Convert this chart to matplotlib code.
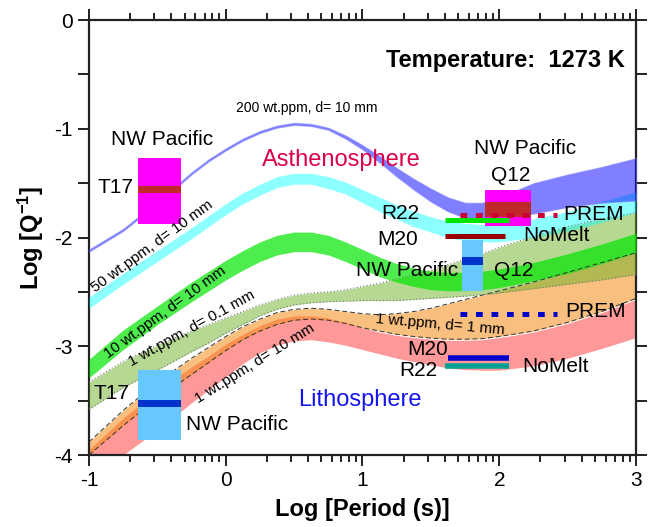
import numpy as np
import matplotlib
matplotlib.use("Agg")
import matplotlib.pyplot as plt
from matplotlib.patches import Rectangle
from matplotlib.ticker import FixedLocator

plt.rcParams["font.family"] = ["Liberation Sans", "DejaVu Sans"]
plt.rcParams["mathtext.fontset"] = "custom"
plt.rcParams["mathtext.rm"] = "Liberation Sans"
plt.rcParams["mathtext.bf"] = "Liberation Sans:bold"
plt.rcParams["mathtext.it"] = "Liberation Sans:italic"

# log10 period (s) at which the model bands are sampled
log_period = [-1.0, -0.75, -0.5, -0.25, -0.125, 0.0, 0.125, 0.25, 0.375, 0.5,
              0.625, 0.75, 0.875, 1.0, 1.125, 1.25, 1.375, 1.5, 1.625, 1.75,
              1.875, 2.0, 2.25, 2.5, 2.75, 3.0]

# log10 Q^-1 bands (upper / lower bound) for each water content & grain size
q200_top = [-2.11, -1.92, -1.67, -1.40, -1.28, -1.18, -1.09, -1.02, -0.97, -0.945,
            -0.955, -0.99, -1.06, -1.15, -1.25, -1.36, -1.46, -1.55, -1.63, -1.68,
            -1.68, -1.63, -1.50, -1.42, -1.35, -1.27]
q200_bot = [-2.13, -1.94, -1.69, -1.42, -1.30, -1.20, -1.11, -1.04, -0.99, -0.965,
            -0.975, -1.01, -1.09, -1.19, -1.31, -1.44, -1.56, -1.67, -1.76, -1.82,
            -1.84, -1.83, -1.78, -1.72, -1.68, -1.66]

q50_top = [-2.55, -2.33, -2.12, -1.91, -1.80, -1.69, -1.59, -1.51, -1.44, -1.41,
           -1.41, -1.44, -1.49, -1.56, -1.63, -1.70, -1.76, -1.81, -1.85, -1.87,
           -1.88, -1.87, -1.83, -1.76, -1.67, -1.58]
q50_bot = [-2.65, -2.43, -2.22, -2.01, -1.90, -1.79, -1.69, -1.61, -1.54, -1.51,
           -1.51, -1.55, -1.60, -1.68, -1.76, -1.83, -1.90, -1.95, -2.00, -2.03,
           -2.04, -2.04, -2.00, -1.94, -1.86, -1.77]

q10_top = [-3.12, -2.85, -2.63, -2.41, -2.31, -2.21, -2.12, -2.04, -1.98, -1.95,
           -1.95, -1.98, -2.04, -2.11, -2.18, -2.24, -2.28, -2.31, -2.32, -2.32,
           -2.31, -2.29, -2.23, -2.15, -2.06, -1.96]
q10_bot = [-3.29, -3.03, -2.80, -2.59, -2.49, -2.39, -2.30, -2.22, -2.16, -2.13,
           -2.13, -2.16, -2.22, -2.29, -2.36, -2.41, -2.45, -2.48, -2.49, -2.49,
           -2.48, -2.46, -2.40, -2.33, -2.24, -2.14]

q1_fine_top = [-3.33, -3.14, -2.99, -2.86, -2.80, -2.74, -2.68, -2.62, -2.57, -2.53,
               -2.51, -2.50, -2.48, -2.45, -2.42, -2.38, -2.34, -2.30, -2.25, -2.20,
               -2.15, -2.09, -1.99, -1.90, -1.83, -1.77]
q1_fine_bot = [-3.58, -3.38, -3.22, -3.05, -2.97, -2.88, -2.80, -2.72, -2.66, -2.62,
               -2.60, -2.59, -2.585, -2.58, -2.58, -2.58, -2.57, -2.56, -2.55, -2.54,
               -2.525, -2.51, -2.47, -2.43, -2.39, -2.34]

q1_mid_top = [-3.88, -3.59, -3.33, -3.11, -3.01, -2.91, -2.82, -2.75, -2.69, -2.66,
              -2.65, -2.66, -2.68, -2.70, -2.71, -2.70, -2.68, -2.65, -2.61, -2.57,
              -2.53, -2.49, -2.41, -2.32, -2.23, -2.14]
q1_mid_bot = [-4.00, -3.73, -3.48, -3.26, -3.15, -3.04, -2.94, -2.86, -2.80, -2.76,
              -2.75, -2.76, -2.79, -2.83, -2.86, -2.89, -2.91, -2.925, -2.935, -2.935,
              -2.93, -2.91, -2.86, -2.78, -2.68, -2.56]

q1_coarse_top = [-3.95, -3.66, -3.41, -3.19, -3.09, -2.98, -2.89, -2.81, -2.75, -2.72,
                 -2.72, -2.74, -2.78, -2.83, -2.87, -2.90, -2.92, -2.935, -2.945, -2.945,
                 -2.94, -2.92, -2.87, -2.79, -2.69, -2.57]
q1_coarse_bot = [-4.32, -4.00, -3.77, -3.52, -3.40, -3.28, -3.16, -3.06, -2.99, -2.95,
                 -2.94, -2.96, -2.99, -3.03, -3.07, -3.11, -3.14, -3.17, -3.20, -3.215,
                 -3.22, -3.22, -3.18, -3.11, -3.02, -2.92]

# seismic observations: boxes (period range, Q^-1 range, preferred band)
t17_period = [-0.642, -0.327]
t17_asth_q = [-1.88, -1.27]
t17_asth_best = [-1.59, -1.53]
t17_lith_q = [-3.86, -3.22]
t17_lith_best = [-3.56, -3.49]

q12_asth_period = [1.896, 2.232]
q12_asth_q = [-1.89, -1.56]
q12_asth_best = [-1.81, -1.67]
q12_lith_period = [1.73, 1.88]
q12_lith_q = [-2.49, -2.02]
q12_lith_best = [-2.25, -2.18]

# seismic observations: single values over a period range
prem_period = [1.71, 2.42]
prem_asth_q = -1.79
prem_lith_q = -2.70
r22_asth_period = [1.60, 2.07]
r22_asth_q = -1.84
m20_asth_period = [1.60, 2.04]
m20_asth_q = -1.99
m20_lith_period = [1.625, 2.07]
m20_lith_q = -3.11
r22_lith_period = [1.60, 2.07]
r22_lith_q = -3.18

x_ticks = [-1, 0, 1, 2, 3]
y_ticks = [-4, -3, -2, -1, 0]

fig = plt.figure(figsize=(6.48, 5.27), dpi=100)
ax = fig.add_axes([0.1373, 0.1366, 0.8442, 0.8254])

# model bands, drawn back to front
ax.fill_between(log_period, q1_coarse_top, q1_coarse_bot, color=(1.0, 0.0, 0.0),
                alpha=0.4, lw=0, zorder=1)
ax.fill_between(log_period, q1_mid_top, q1_mid_bot, color=(0.96, 0.55, 0.08),
                alpha=0.55, lw=0, zorder=2)
ax.fill_between(log_period, q1_fine_top, q1_fine_bot, color=(0.43, 0.70, 0.16),
                alpha=0.5, lw=0, zorder=3)
ax.fill_between(log_period, q10_top, q10_bot, color=(0.0, 0.90, 0.0),
                alpha=0.7, lw=0, zorder=4)
ax.fill_between(log_period, q50_top, q50_bot, color=(0.0, 1.0, 1.0),
                alpha=0.45, lw=0, zorder=5)
ax.fill_between(log_period, q200_top, q200_bot, color=(0.0, 0.0, 1.0),
                alpha=0.5, lw=0.8, edgecolor=(0.5, 0.5, 1.0), zorder=6)

# band outlines
for curve in (q1_mid_top, q1_mid_bot):
    ax.plot(log_period, curve, color="#333333", lw=0.7, ls=(0, (5, 3)), zorder=7)
for curve in (q1_fine_top, q1_fine_bot):
    ax.plot(log_period, curve, color="#777777", lw=0.8, ls=(0, (1, 2)), zorder=7)


def obs_box(period, q, best, fill, stripe):
    ax.add_patch(Rectangle((period[0], q[0]), period[1] - period[0], q[1] - q[0],
                           facecolor=fill, edgecolor="none", zorder=10))
    ax.add_patch(Rectangle((period[0], best[0]), period[1] - period[0],
                           best[1] - best[0], facecolor=stripe, edgecolor="none",
                           zorder=10))


obs_box(t17_period, t17_asth_q, t17_asth_best, "#ff00ff", "#c0282c")
obs_box(t17_period, t17_lith_q, t17_lith_best, "#66c8ff", "#0033cc")
obs_box(q12_asth_period, q12_asth_q, q12_asth_best, "#ff00ff", "#c0282c")
obs_box(q12_lith_period, q12_lith_q, q12_lith_best, "#66c8ff", "#0033cc")

ax.plot(r22_asth_period, [r22_asth_q] * 2, color="#00e600", lw=3.6,
        solid_capstyle="butt", zorder=11)
ax.plot(m20_asth_period, [m20_asth_q] * 2, color="#990000", lw=3.6,
        solid_capstyle="butt", zorder=11)
ax.plot(prem_period, [prem_asth_q] * 2, color="#cc0033", lw=3.6,
        ls=(0, (1.35, 1.75)), dash_capstyle="butt", zorder=11)
ax.plot(prem_period, [prem_lith_q] * 2, color="#0000cc", lw=3.6,
        ls=(0, (1.35, 1.75)), dash_capstyle="butt", zorder=11)
ax.plot(m20_lith_period, [m20_lith_q] * 2, color="#0000cc", lw=4.0,
        solid_capstyle="butt", zorder=11)
ax.plot(r22_lith_period, [r22_lith_q] * 2, color="#00a096", lw=4.0,
        solid_capstyle="butt", zorder=11)

# labels on the model curves
small = dict(fontsize=11, ha="center", va="center", zorder=12)
ax.text(0.594, -0.81, "200 wt.ppm, d= 10 mm", fontsize=10, ha="center",
        va="center", zorder=12)
ax.text(-0.535, -2.085, "50 wt.ppm, d= 10 mm", rotation=36, **small)
ax.text(-0.44, -2.69, "10 wt.ppm, d= 10 mm", rotation=36, **small)
ax.text(-0.25, -2.84, "1 wt.ppm, d= 0.1 mm", rotation=29, **small)
ax.text(0.215, -3.16, "1 wt.ppm, d= 10 mm", rotation=32, **small)
ax.text(1.567, -2.80, "1 wt.ppm, d= 1 mm", rotation=-5, **small)

ax.text(0.843, -1.29, "Asthenosphere", fontsize=17, color="#dc0046",
        ha="center", va="center", zorder=12)
ax.text(0.982, -3.49, "Lithosphere", fontsize=17, color="#1414f0",
        ha="center", va="center", zorder=12)
ax.text(2.92, -0.37, "Temperature:  1273 K", fontsize=17, fontweight="bold",
        ha="right", va="center", zorder=12)

# labels on the observations
obs = dict(fontsize=15, va="center", zorder=12)
ax.text(-0.466, -1.10, "NW Pacific", ha="center", **obs)
ax.text(-0.678, -1.54, "T17", ha="right", **obs)
ax.text(-0.70, -3.43, "T17", ha="right", **obs)
ax.text(-0.291, -3.72, "NW Pacific", ha="left", **obs)
ax.text(2.19, -1.18, "NW Pacific", ha="center", **obs)
ax.text(2.08, -1.43, "Q12", ha="center", **obs)
ax.text(1.413, -1.78, "R22", ha="right", **obs)
ax.text(2.466, -1.79, "PREM", ha="left", **obs)
ax.text(1.406, -2.02, "M20", ha="right", **obs)
ax.text(2.174, -1.98, "NoMelt", ha="left", **obs)
ax.text(1.70, -2.30, "NW Pacific", ha="right", **obs)
ax.text(1.96, -2.30, "Q12", ha="left", **obs)
ax.text(2.48, -2.68, "PREM", ha="left", **obs)
ax.text(1.625, -3.03, "M20", ha="right", **obs)
ax.text(1.545, -3.22, "R22", ha="right", **obs)
ax.text(2.166, -3.19, "NoMelt", ha="left", **obs)

ax.set_xlim(-1, 3)
ax.set_ylim(-4, 0)
ax.xaxis.set_major_locator(FixedLocator(x_ticks))
ax.xaxis.set_minor_locator(FixedLocator(
    [n + np.log10(k) for n in range(-1, 3) for k in range(2, 10)]))
ax.yaxis.set_major_locator(FixedLocator(y_ticks))
ax.yaxis.set_minor_locator(FixedLocator([-3.5, -2.5, -1.5, -0.5]))
ax.set_xticklabels([str(t) for t in x_ticks])
ax.set_yticklabels([str(t) for t in y_ticks])

ax.tick_params(which="both", direction="out", top=True, right=True,
               labeltop=False, labelright=False, width=1.4, color="#222222",
               labelsize=15)
ax.tick_params(axis="x", which="major", length=8)
ax.tick_params(axis="x", which="minor", length=5)
ax.tick_params(axis="y", which="both", length=8)
for spine in ax.spines.values():
    spine.set_linewidth(1.6)
    spine.set_color("#222222")

ax.set_xlabel("Log [Period (s)]", fontsize=17, fontweight="bold", labelpad=6)
ax.set_ylabel(r"Log [$\mathbf{Q^{-1}}$]", fontsize=17, fontweight="bold",
              labelpad=6)

fig.savefig("out.png", dpi=100)
